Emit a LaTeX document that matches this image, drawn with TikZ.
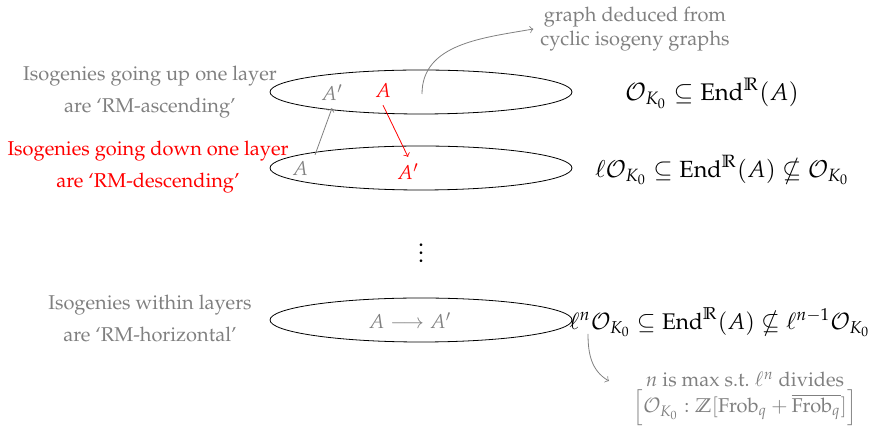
\documentclass[tikz,border=0pt]{standalone}
\usepackage{amsfonts, amssymb, amsmath}
\usepackage[T1]{fontenc}
\usepackage{mathpazo}
\usepackage{tikz}
\usetikzlibrary{shapes.geometric}
\newcommand{\OK}{\mathcal{O}_{K_0}}
\newcommand{\EndR}{\mathrm{End}^{\mathbb{R}}(A)}

\begin{document}
\begin{tikzpicture}[x=0.5pt, y=-0.5pt,
    layer/.style={draw, ellipse, minimum width=151pt, minimum height=22pt, inner sep=0pt},
    note/.style={text=gray, align=center},
    iso/.style={->, gray}]
    \useasboundingbox (0,0) rectangle (873,426);

    % the layers
    \node[layer] (top) at (421,92) {};
    \node[layer] (mid) at (421,168) {};
    \node[layer] (bot) at (421,320) {};
    \node (dots) at (421,247) {\large$\vdots$};

    % vertices
    \node[text=gray] (Atop') at (332,93) {$A'$};
    \node[text=red] (Atop) at (383,91) {$A$};
    \node[text=gray] (Amid) at (300,169) {$A$};
    \node[text=red] (Amid') at (408,172) {$A'$};
    \node[text=gray] (horiz) at (410,321) {$A \longrightarrow A'$};
    \draw[iso] (Amid.north east) -- (Atop'.south);
    \draw[->, red] (Atop.south) -- (Amid'.north);

    % left descriptions
    \node[note] (up) at (150,92) {Isogenies going up one layer\\[4pt] are `RM-ascending'};
    \node[note, text=red] (down) at (148,167) {Isogenies going down one layer\\[4pt] are `RM-descending'};
    \node[note] (within) at (150,318) {Isogenies within layers\\[4pt] are `RM-horizontal'};

    % right descriptions
    \node (e0) at (712,93) {\large$\OK \subseteq \EndR$};
    \node (e1) at (722,170) {\fontsize{11.7}{14}\selectfont$\ell\OK \subseteq \EndR \nsubseteq \OK$};
    \node[anchor=west, inner sep=0pt] (en) at (569,322) {\fontsize{11.3}{14}\selectfont$\ell^n\OK \subseteq \EndR \nsubseteq \ell^{n-1}\OK$};

    % remarks
    \node[note] (graph) at (635,29) {graph deduced from\\ cyclic isogeny graphs};
    \node[note] (maxn) at (745,399) {$n$ is max s.t.\ $\ell^n$ divides\\[1pt] $\left[\OK : \mathbb{Z}[\mathrm{Frob}_q + \overline{\mathrm{Frob}_q}]\right]$};
    \coordinate (src) at (422,94);
    \coordinate (nsrc) at (588,334);
    \coordinate (ntip) at (609,381);
    \draw[iso] (src) to[out=90, in=190] (graph.west);
    \draw[iso] (nsrc) to[out=-90, in=150] (ntip);
\end{tikzpicture}
\end{document}
